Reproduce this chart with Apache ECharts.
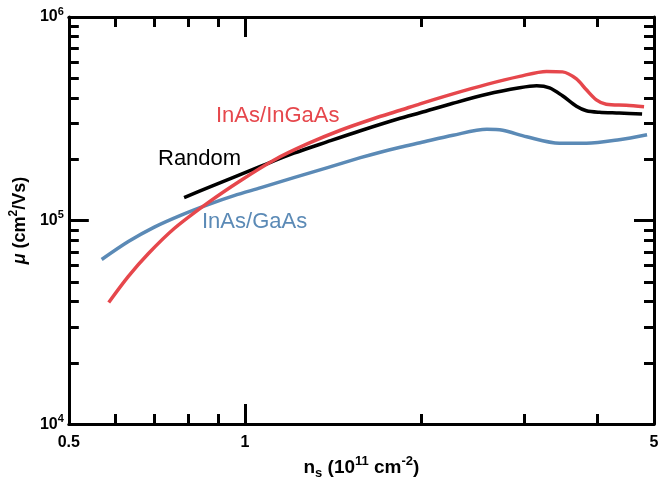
<!DOCTYPE html>
<html>
<head>
<meta charset="utf-8">
<script src="https://cdn.jsdelivr.net/npm/echarts@6/dist/echarts.min.js"></script>
<style>
html,body{margin:0;padding:0;background:#fff;}
#chart{width:668px;height:485px;}
</style>
</head>
<body>
<div id="chart"></div>
<script>
// ---------- data ----------
const xRange = [0.5, 5];
const yRange = [1e4, 1e6];
const xLabelTicks = [0.5, 1, 5];
const xMajorTicks = [1];
const xMinorTicks = [0.6, 0.7, 0.8, 0.9, 2, 3, 4];
const yMajorTicks = [1e4, 1e5, 1e6];
const yMinorTicks = [2e4, 3e4, 4e4, 5e4, 6e4, 7e4, 8e4, 9e4, 2e5, 3e5, 4e5, 5e5, 6e5, 7e5, 8e5, 9e5];
const yLabelTicks = [1e4, 1e5, 1e6];

const seriesNames = ['InAs/GaAs', 'Random', 'InAs/InGaAs'];
const seriesColors = ['#5b8ab6', '#000000', '#e6474c'];

const gaasData = [
  [0.569, 64400], [0.632, 78900], [0.700, 92900], [0.778, 106400], [0.865, 119800],
  [0.958, 132600], [1.065, 145100], [1.212, 162500], [1.384, 181900], [1.575, 203600],
  [1.703, 216700], [1.842, 229200], [1.992, 241200], [2.267, 262500], [2.590, 280900],
  [2.757, 277700], [3.029, 258100], [3.447, 239900], [3.832, 239900], [4.360, 249500],
  [4.865, 264000]
];
const randomData = [
  [0.787, 129700], [0.865, 145100], [0.958, 163400], [1.065, 185000], [1.212, 214200],
  [1.384, 244000], [1.575, 276200], [1.842, 318000], [1.992, 338400], [2.267, 376800],
  [2.590, 417100], [2.947, 448700], [3.150, 459000], [3.315, 448700], [3.488, 410000],
  [3.685, 364200], [3.832, 346200], [4.032, 340300], [4.360, 337300], [4.771, 333400]
];
const ingaasData = [
  [0.585, 39600], [0.632, 53200], [0.684, 68900], [0.757, 91400], [0.865, 122500],
  [0.985, 157900], [1.120, 198000], [1.280, 238500], [1.456, 277700], [1.657, 316200],
  [1.842, 348100], [1.992, 374600], [2.267, 419400], [2.590, 466900], [2.947, 510900],
  [3.276, 540500], [3.488, 537500], [3.685, 496700], [3.832, 438800], [3.985, 391900],
  [4.143, 372500], [4.481, 368300], [4.808, 362100]
];

// ---------- chart ----------
const FONT = '"Liberation Sans", Arial, Helvetica, sans-serif';
const L = Math.log10;
const AXIS_W = 3;
const MAJOR = 20, MINOR = 10;

const supRich = {
  b: {fontSize: 16, fontWeight: 'bold', fontFamily: FONT, color: '#000', lineHeight: 22},
  sup: {fontSize: 11, fontWeight: 'bold', fontFamily: FONT, color: '#000', lineHeight: 11, verticalAlign: 'top'}
};
function nameRich(size, small) {
  return {
    n: {fontSize: size, fontWeight: 'bold', fontFamily: FONT, color: '#000', lineHeight: size + 6},
    i: {fontSize: size, fontWeight: 'bold', fontStyle: 'italic', fontFamily: FONT, color: '#000', lineHeight: size + 6},
    sup: {fontSize: small, fontWeight: 'bold', fontFamily: FONT, color: '#000', lineHeight: small, verticalAlign: 'top'},
    sub: {fontSize: small, fontWeight: 'bold', fontFamily: FONT, color: '#000', lineHeight: small, verticalAlign: 'bottom'}
  };
}

function tickAxis(position, range, ticks, len, showLine, extra) {
  return Object.assign({
    type: 'value',
    gridIndex: 0,
    position: position,
    min: L(range[0]),
    max: L(range[1]),
    axisLine: {show: showLine, onZero: false, lineStyle: {color: '#000', width: AXIS_W}},
    axisTick: {show: true, inside: true, length: len, customValues: ticks.map(L),
               lineStyle: {color: '#000', width: AXIS_W}},
    axisLabel: {show: false},
    splitLine: {show: false},
    minorTick: {show: false},
    silent: true
  }, extra || {});
}

const xAxes = [
  {type: 'log', logBase: 10, min: xRange[0], max: xRange[1], show: false, gridIndex: 0},
  tickAxis('bottom', xRange, xMajorTicks, MAJOR, true, {
    axisLabel: {show: true, customValues: xLabelTicks.map(L), margin: 10,
      formatter: v => String(+Math.pow(10, v).toPrecision(3)),
      fontSize: 16, fontWeight: 'bold', fontFamily: FONT, color: '#000'},
    name: '{n|n}{sub|s}{n| (10}{sup|11}{n| cm}{sup|-2}{n|)}',
    nameLocation: 'middle', nameGap: 29,
    nameTextStyle: {rich: nameRich(19, 13)}
  }),
  tickAxis('bottom', xRange, xMinorTicks, MINOR, false),
  tickAxis('top', xRange, xMajorTicks, MAJOR, true),
  tickAxis('top', xRange, xMinorTicks, MINOR, false)
];
const yAxes = [
  {type: 'log', logBase: 10, min: yRange[0], max: yRange[1], show: false, gridIndex: 0},
  tickAxis('left', yRange, yMajorTicks, MAJOR, true, {
    axisLabel: {show: true, customValues: yLabelTicks.map(L), margin: 5,
      formatter: v => '{b|10}{sup|' + Math.round(v) + '}',
      rich: supRich},
    name: '{i|\u03bc}{n| (cm}{sup|2}{n|/Vs)}',
    nameLocation: 'middle', nameGap: 34,
    nameTextStyle: {rich: nameRich(18, 12)}
  }),
  tickAxis('left', yRange, yMinorTicks, MINOR, false),
  tickAxis('right', yRange, yMajorTicks, MAJOR, true),
  tickAxis('right', yRange, yMinorTicks, MINOR, false)
];

const datasets = [gaasData, randomData, ingaasData];
const series = datasets.map((d, i) => ({
  name: seriesNames[i],
  type: 'line',
  xAxisIndex: 0,
  yAxisIndex: 0,
  data: d,
  smooth: 0.3,
  showSymbol: false,
  symbol: 'none',
  lineStyle: {color: seriesColors[i], width: 3.5, cap: 'butt', join: 'round'},
  z: 2 + i,
  silent: true,
  animation: false
}));

const labelPos = [[202, 222], [158, 159], [216, 116]];
const graphic = seriesNames.map((t, i) => ({
  type: 'text',
  x: labelPos[i][0],
  y: labelPos[i][1],
  silent: true,
  style: {text: t, fill: seriesColors[i], fontSize: 22, fontFamily: FONT,
          align: 'left', verticalAlign: 'middle'}
}));

const chart = echarts.init(document.getElementById('chart'), null, {renderer: 'canvas'});
chart.setOption({
  animation: false,
  backgroundColor: '#ffffff',
  grid: {left: 67, right: 14, top: 17, bottom: 60, containLabel: false},
  xAxis: xAxes,
  yAxis: yAxes,
  series: series,
  graphic: graphic
});
</script>
</body>
</html>
